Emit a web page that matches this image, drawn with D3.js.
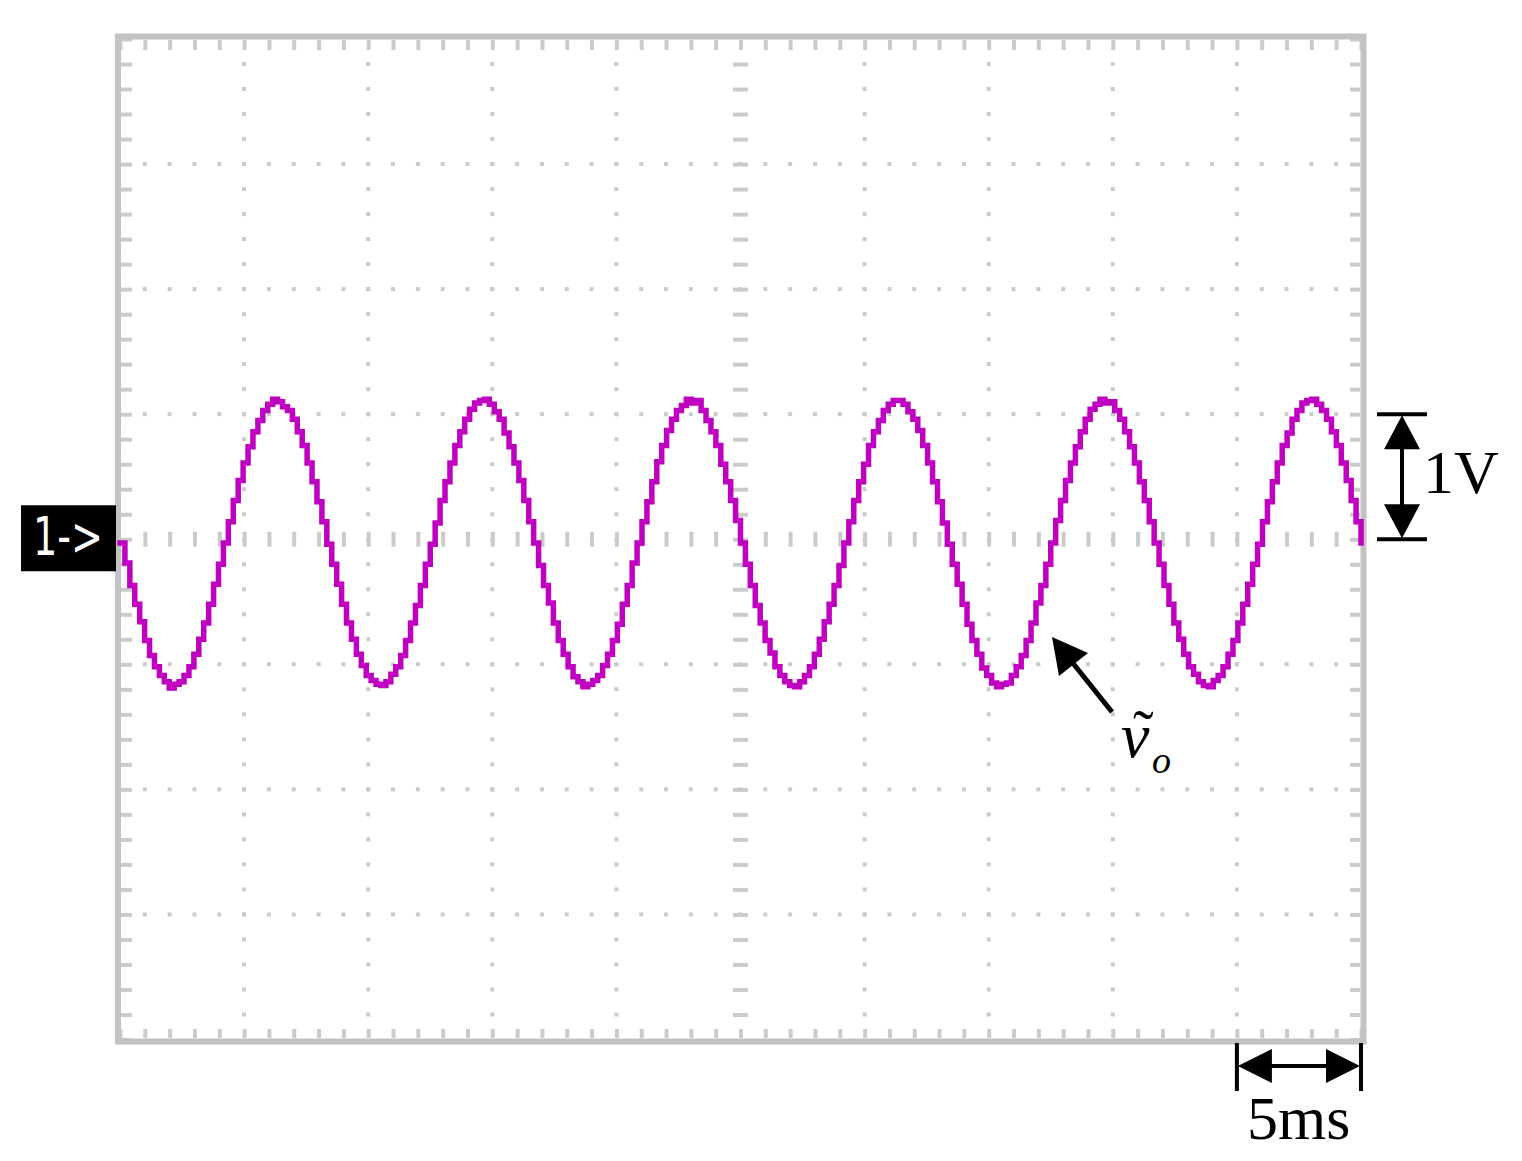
<!DOCTYPE html>
<html>
<head>
<meta charset="utf-8">
<script src="https://cdn.jsdelivr.net/npm/d3@7"></script>
<style>
  body { margin: 0; background: #fff; }
  svg { display: block; }
</style>
</head>
<body>
<svg id="canvas" width="1522" height="1161"></svg>
<script>
// scope settings
const timeDomain = [0, 50]; // ms, 10 div x 5 ms
const voltDomain = [-4, 4]; // V, 8 div x 1 V
const majorTimes = [5, 10, 15, 20, 30, 35, 40, 45];
const majorVolts = [-3, -2, -1, 1, 2, 3];
const sampleMs = 50 / 252;

// v~o samples, one row per cycle (~8.33 ms)
const vo = [
  -0.03,-0.19,-0.37,-0.52,-0.66,-0.81,-0.93,-1.02,-1.09,-1.14,-1.19,-1.16,-1.14,-1.09,-1.02,-0.92,-0.80,-0.67,-0.52,-0.36,-0.20,-0.03,0.14,0.31,0.47,0.61,0.74,0.86,0.95,1.03,1.08,1.12,1.10,1.06,1.03,0.96,0.86,0.75,0.61,0.46,0.30,0.14,
  -0.04,-0.20,-0.36,-0.52,-0.67,-0.80,-0.92,-1.01,-1.09,-1.13,-1.16,-1.17,-1.14,-1.08,-1.02,-0.93,-0.81,-0.67,-0.53,-0.37,-0.20,-0.04,0.13,0.31,0.46,0.61,0.75,0.86,0.96,1.04,1.09,1.11,1.12,1.08,1.02,0.96,0.85,0.74,0.61,0.47,0.31,0.14,
  -0.03,-0.21,-0.37,-0.51,-0.67,-0.81,-0.92,-1.02,-1.10,-1.14,-1.18,-1.16,-1.13,-1.09,-1.01,-0.92,-0.81,-0.68,-0.52,-0.37,-0.19,-0.03,0.14,0.30,0.46,0.62,0.75,0.87,0.96,1.03,1.07,1.12,1.09,1.11,1.03,0.95,0.86,0.75,0.60,0.46,0.31,0.15,
  -0.03,-0.20,-0.37,-0.53,-0.67,-0.81,-0.91,-1.02,-1.09,-1.14,-1.17,-1.18,-1.14,-1.09,-1.02,-0.92,-0.80,-0.66,-0.52,-0.37,-0.21,-0.03,0.14,0.31,0.46,0.60,0.75,0.86,0.95,1.03,1.08,1.11,1.11,1.08,1.02,0.96,0.87,0.75,0.61,0.46,0.30,0.13,
  -0.04,-0.20,-0.36,-0.52,-0.68,-0.81,-0.92,-1.03,-1.09,-1.15,-1.18,-1.16,-1.15,-1.09,-1.02,-0.93,-0.81,-0.67,-0.51,-0.37,-0.20,-0.03,0.15,0.31,0.47,0.61,0.74,0.86,0.96,1.04,1.08,1.12,1.09,1.10,1.03,0.96,0.86,0.74,0.61,0.46,0.31,0.14,
  -0.03,-0.20,-0.37,-0.52,-0.67,-0.80,-0.92,-1.02,-1.08,-1.14,-1.17,-1.18,-1.13,-1.09,-1.02,-0.92,-0.81,-0.67,-0.52,-0.36,-0.20,-0.04,0.14,0.30,0.46,0.61,0.75,0.85,0.96,1.03,1.09,1.11,1.12,1.08,1.03,0.96,0.86,0.75,0.61,0.47,0.31,0.14,
  -0.03
];

const gridColor = "#cbcbcb";
const traceColor = "#c000c0";

const svg = d3.select("#canvas");

const x = d3.scaleLinear().domain(timeDomain).range([120, 1361]);
const y = d3.scaleLinear().domain(voltDomain).range([1039.5, 39]);

const minorTimes = d3.range(0, 50.001, 1);
const minorVolts = d3.range(-4, 4.001, 0.2).map((v) => Math.round(v * 10) / 10);

svg.append("rect").attr("width", 1522).attr("height", 1161).attr("fill", "#fff");

// dotted graticule
const dots = svg.append("g").attr("fill", gridColor);
majorTimes.forEach((t) => {
  minorVolts.slice(1, -1).forEach((v) => {
    dots.append("rect")
      .attr("x", x(t) - 2).attr("y", y(v) - 2)
      .attr("width", 4).attr("height", 4);
  });
});
majorVolts.forEach((v) => {
  minorTimes.slice(1, -1).forEach((t) => {
    dots.append("rect")
      .attr("x", x(t) - 2).attr("y", y(v) - 2)
      .attr("width", 4).attr("height", 4);
  });
});

const styleAxis = (g) => {
  g.select(".domain").remove();
  g.selectAll(".tick text").remove();
  g.selectAll(".tick line").attr("stroke", gridColor).attr("stroke-width", 4);
};

// centre lines with dashes
svg.append("g")
  .attr("transform", `translate(0,${y(0) - 7.5})`)
  .call(d3.axisBottom(x).tickValues(minorTimes.slice(1, -1)).tickSize(15).tickFormat(""))
  .call(styleAxis);
svg.append("g")
  .attr("transform", `translate(${x(25) - 7.5},0)`)
  .call(d3.axisRight(y).tickValues(minorVolts.slice(1, -1)).tickSize(15).tickFormat(""))
  .call(styleAxis);

// edge ticks
svg.append("g").attr("transform", "translate(0,40)")
  .call(d3.axisBottom(x).tickValues(minorTimes).tickSize(10).tickFormat(""))
  .call(styleAxis);
svg.append("g").attr("transform", "translate(0,1038)")
  .call(d3.axisTop(x).tickValues(minorTimes).tickSize(9).tickFormat(""))
  .call(styleAxis);
svg.append("g").attr("transform", "translate(121,0)")
  .call(d3.axisRight(y).tickValues(minorVolts).tickSize(11).tickFormat(""))
  .call(styleAxis);
svg.append("g").attr("transform", "translate(1360,0)")
  .call(d3.axisLeft(y).tickValues(minorVolts).tickSize(10).tickFormat(""))
  .call(styleAxis);

// frame
svg.append("rect")
  .attr("x", 118).attr("y", 36.5).attr("width", 1245.5).attr("height", 1005)
  .attr("fill", "none").attr("stroke", "#c2c2c2").attr("stroke-width", 6);

// trace
const line = d3.line()
  .x((d, i) => x(i * sampleMs))
  .y((d) => y(d))
  .curve(d3.curveStepAfter);

svg.append("path")
  .datum(vo)
  .attr("d", line)
  .attr("fill", "none")
  .attr("stroke", traceColor)
  .attr("stroke-width", 5.5)
  .attr("stroke-linejoin", "miter")
  .attr("stroke-linecap", "square");

// channel marker
svg.append("rect")
  .attr("x", 21).attr("y", y(0) - 34).attr("width", 95).attr("height", 66)
  .attr("fill", "#000");
svg.append("text")
  .attr("x", 33).attr("y", y(0) + 16)
  .attr("fill", "#fff")
  .attr("font-family", "DejaVu Sans")
  .attr("font-size", 54)
  .attr("textLength", 70)
  .attr("lengthAdjust", "spacingAndGlyphs")
  .text("1->");

// annotations
const ink = svg.append("g").attr("fill", "#000").attr("stroke", "#000");

// 1 V marker
const ax = 1402;
ink.append("line").attr("x1", 1377).attr("x2", 1427).attr("y1", y(1)).attr("y2", y(1)).attr("stroke-width", 4);
ink.append("line").attr("x1", 1377).attr("x2", 1427).attr("y1", y(0)).attr("y2", y(0)).attr("stroke-width", 4);
ink.append("line").attr("x1", ax).attr("x2", ax).attr("y1", y(1) + 20).attr("y2", y(0) - 20).attr("stroke-width", 4);
ink.append("path").attr("stroke", "none")
  .attr("d", `M${ax},${y(1) + 1}L${ax - 18},${y(1) + 35}L${ax + 18},${y(1) + 35}Z`);
ink.append("path").attr("stroke", "none")
  .attr("d", `M${ax},${y(0) - 1}L${ax - 18},${y(0) - 35}L${ax + 18},${y(0) - 35}Z`);

// 5 ms marker
const ay = 1066;
ink.append("line").attr("x1", x(45)).attr("x2", x(45)).attr("y1", 1043).attr("y2", 1091).attr("stroke-width", 4);
ink.append("line").attr("x1", x(50)).attr("x2", x(50)).attr("y1", 1043).attr("y2", 1091).attr("stroke-width", 4);
ink.append("line").attr("x1", x(45) + 20).attr("x2", x(50) - 20).attr("y1", ay).attr("y2", ay).attr("stroke-width", 4);
ink.append("path").attr("stroke", "none")
  .attr("d", `M${x(45) + 1},${ay}L${x(45) + 35},${ay - 17}L${x(45) + 35},${ay + 17}Z`);
ink.append("path").attr("stroke", "none")
  .attr("d", `M${x(50) - 1},${ay}L${x(50) - 35},${ay - 17}L${x(50) - 35},${ay + 17}Z`);

// pointer to the trace
ink.append("line").attr("x1", 1112).attr("y1", 712).attr("x2", 1068).attr("y2", 657).attr("stroke-width", 5);
ink.append("path").attr("stroke", "none")
  .attr("d", "M1052,637L1059,676L1088,653Z");

const serif = "Liberation Serif, Times New Roman, serif";

svg.append("text")
  .attr("x", 1423).attr("y", 493)
  .attr("font-family", serif).attr("font-size", 62)
  .text("1V");

svg.append("text")
  .attr("x", 1247).attr("y", 1139)
  .attr("font-family", serif).attr("font-size", 62)
  .text("5ms");

// v with tilde, subscript o
const label = svg.append("text")
  .attr("x", 1121).attr("y", 757)
  .attr("font-family", serif).attr("font-style", "italic").attr("font-size", 64);
label.append("tspan").text("v");
label.append("tspan").attr("x", 1133).attr("dy", -4)
  .attr("font-style", "normal").attr("font-size", 62).text("˜");
label.append("tspan").attr("x", 1152).attr("dy", 20)
  .attr("font-size", 38).text("o");
</script>
</body>
</html>
